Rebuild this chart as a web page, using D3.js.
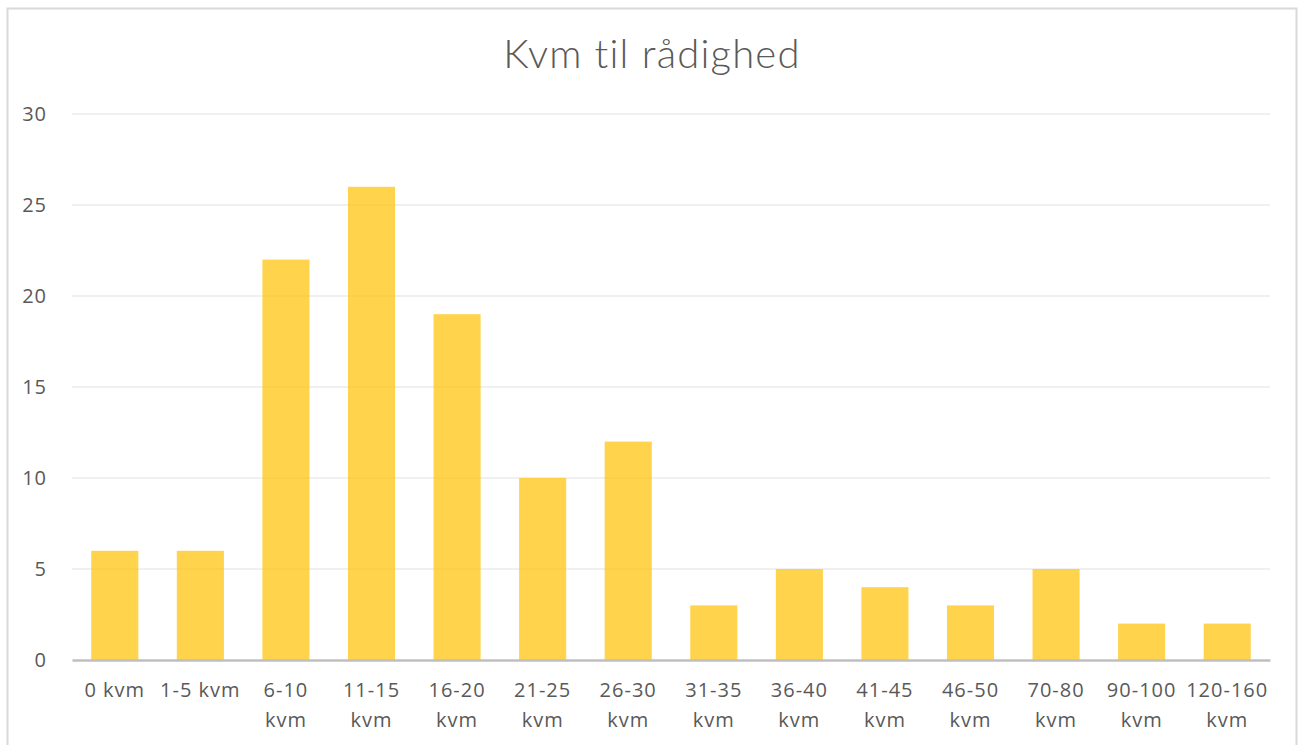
<!DOCTYPE html>
<html>
<head>
<meta charset="utf-8">
<script src="https://cdn.jsdelivr.net/npm/d3@7"></script>
<style>
  body { margin: 0; background: #fff; }
  svg { font-family: "Open Sans", sans-serif; }
</style>
</head>
<body>
<svg id="chart" width="1300" height="745"></svg>
<script>
const categories = ['0 kvm', '1-5 kvm', '6-10 kvm', '11-15 kvm', '16-20 kvm', '21-25 kvm', '26-30 kvm',
  '31-35 kvm', '36-40 kvm', '41-45 kvm', '46-50 kvm', '70-80 kvm', '90-100 kvm', '120-160 kvm'];
const values = [6, 6, 22, 26, 19, 10, 12, 3, 5, 4, 3, 5, 2, 2];
const yTicks = [0, 5, 10, 15, 20, 25, 30];

const svg = d3.select('#chart');
const margin = { top: 114, right: 30, bottom: 85, left: 72 };
const width = 1300 - margin.left - margin.right;
const height = 745 - margin.top - margin.bottom;

// chart frame
svg.append('rect')
  .attr('x', 7.5).attr('y', 8.5)
  .attr('width', 1289).attr('height', 760)
  .attr('fill', '#fff')
  .attr('stroke', '#d9d9d9')
  .attr('stroke-width', 2);

svg.append('text')
  .attr('x', 652).attr('y', 68)
  .attr('text-anchor', 'middle')
  .attr('fill', '#595959')
  .attr('font-family', 'Lato, sans-serif')
  .attr('font-size', 40)
  .attr('font-weight', 300)
  .attr('letter-spacing', 1.2)
  .text('Kvm til rådighed');

const g = svg.append('g').attr('transform', `translate(${margin.left},${margin.top})`);

const x = d3.scaleBand().domain(categories).range([0, width]).paddingInner(0.45).paddingOuter(0.225);
const y = d3.scaleLinear().domain([0, 30]).range([height, 0]);

// gridlines
g.append('g')
  .selectAll('line')
  .data(yTicks.filter(d => d > 0))
  .join('line')
  .attr('x1', 0).attr('x2', width)
  .attr('y1', d => y(d)).attr('y2', d => y(d))
  .attr('stroke', '#ebebeb')
  .attr('stroke-width', 1.5);

// y labels
const yAxis = g.append('g')
  .call(d3.axisLeft(y).tickValues(yTicks).tickSize(0).tickPadding(25));
yAxis.select('.domain').remove();
yAxis.selectAll('text')
  .attr('font-size', 20)
  .attr('letter-spacing', 1)
  .attr('fill', '#595959')
  .attr('font-family', '"Open Sans", sans-serif');

// bars
g.append('g')
  .selectAll('rect')
  .data(values)
  .join('rect')
  .attr('x', (d, i) => x(categories[i]))
  .attr('width', x.bandwidth())
  .attr('y', d => y(d))
  .attr('height', d => height - y(d))
  .attr('fill', '#ffc000')
  .attr('fill-opacity', 0.7);

// x axis
const xAxis = g.append('g')
  .attr('transform', `translate(0,${height})`)
  .call(d3.axisBottom(x).tickSize(0).tickPadding(0));
xAxis.select('.domain').attr('stroke', '#bfbfbf').attr('stroke-width', 2.5);
xAxis.selectAll('text').remove();
xAxis.selectAll('.tick')
  .append('text')
  .attr('text-anchor', 'middle')
  .attr('fill', '#595959')
  .attr('font-size', 20)
  .attr('letter-spacing', 1)
  .attr('font-family', '"Open Sans", sans-serif')
  .each(function (d) {
    const t = d3.select(this);
    const lines = (d === '0 kvm' || d === '1-5 kvm') ? [d] : [d.replace(' kvm', ''), 'kvm'];
    lines.forEach((s, k) => {
      t.append('tspan').attr('x', 0).attr('y', 37 + k * 30).text(s);
    });
  });
</script>
</body>
</html>
